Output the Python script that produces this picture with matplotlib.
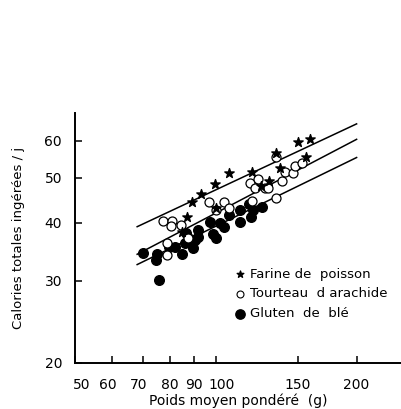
import numpy as np
import matplotlib
matplotlib.use("Agg")
import matplotlib.pyplot as plt
import matplotlib.transforms as mtransforms
from matplotlib.ticker import FixedLocator, NullLocator

# Farine de poisson (stars)
poisson_x = [89.2, 93.1, 99.7, 106.9, 119.8, 134.6, 149.7, 159.0, 155.9, 137.3,
             130.2, 125.0, 86.8, 84.6, 100.2]
poisson_y = [44.4, 46.1, 48.4, 51.2, 51.5, 56.4, 59.7, 60.4, 55.4, 52.3,
             49.2, 48.0, 41.2, 38.2, 42.9]

# Tourteau d'arachide (open circles)
arachide_x = [77.1, 80.6, 80.2, 84.4, 78.9, 78.6, 87.5, 96.9, 104.2, 106.9, 100.2,
              119.4, 118.4, 123.3, 121.4, 127.5, 129.6, 134.6, 138.4, 140.6,
              146.1, 147.7, 152.7, 134.4]
arachide_y = [40.3, 40.4, 39.3, 39.5, 36.2, 34.1, 37.0, 44.4, 44.4, 42.9, 42.6,
              44.5, 48.7, 49.6, 47.4, 47.4, 47.4, 55.4, 49.2, 51.5,
              51.2, 53.0, 53.6, 45.2]

# Gluten de ble (filled circles)
gluten_x = [70.1, 74.8, 74.5, 75.8, 79.5, 81.9, 84.6, 86.0, 89.3, 90.3, 91.8, 91.8,
            97.3, 98.9, 100.2, 102.2, 104.2, 106.9, 112.7, 112.7, 118.0, 118.8,
            120.3, 125.4, 86.5, 88.0]
gluten_y = [34.5, 34.2, 33.3, 30.1, 35.4, 35.5, 34.2, 36.1, 35.2, 36.7, 38.6, 37.3,
            40.2, 37.9, 37.0, 39.9, 39.2, 41.5, 42.6, 40.2, 43.8, 41.2,
            42.6, 43.3, 38.0, 36.8]

# fitted lines (end points)
line_x = [68, 200]
line_poisson = [39.2, 65.2]
line_arachide = [34.2, 60.4]
line_gluten = [32.5, 55.2]

x_ticks = [50, 60, 70, 80, 90, 100, 150, 200]
y_ticks = [20, 30, 40, 50, 60]

fig = plt.figure(figsize=(4.02, 4.09), dpi=100)
ax = fig.add_axes([0.1856, 0.1132, 0.8144, 0.6105])

ax.set_xscale("log")
ax.set_yscale("log")
ax.set_xlim(50, 250)
ax.set_ylim(20, 68.8)

for ly in (line_poisson, line_arachide, line_gluten):
    ax.plot(line_x, ly, color="black", lw=1.1, zorder=1)

ax.scatter(gluten_x, gluten_y, s=48, marker="o", color="black", zorder=2)
ax.scatter(arachide_x, arachide_y, s=42, marker="o", facecolor="white",
           edgecolor="black", linewidth=0.9, zorder=3)
ax.scatter(poisson_x, poisson_y, s=50, marker="*", color="black", zorder=4)

ax.xaxis.set_major_locator(FixedLocator(x_ticks))
ax.xaxis.set_minor_locator(NullLocator())
ax.set_xticklabels([str(t) for t in x_ticks])
ax.yaxis.set_major_locator(FixedLocator(y_ticks))
ax.yaxis.set_minor_locator(NullLocator())
ax.set_yticklabels([str(t) for t in y_ticks])

ax.tick_params(direction="in", length=5, width=1.1, labelsize=10, pad=11)
ax.tick_params(axis="y", pad=9)
for side in ("top", "right"):
    ax.spines[side].set_visible(False)
for side in ("left", "bottom"):
    ax.spines[side].set_linewidth(1.4)

# nudge crowded x labels as in the original
nudges = {50: 7, 60: -4, 70: -4, 100: 6}
for lab, t in zip(ax.get_xticklabels(), x_ticks):
    if t in nudges:
        off = mtransforms.ScaledTranslation(nudges[t] / 100, 0, fig.dpi_scale_trans)
        lab.set_transform(lab.get_transform() + off)

ax.set_xlabel("Poids moyen pondéré  (g)", fontsize=10, labelpad=1)
ax.set_ylabel("Calories totales ingérées / j", fontsize=9.5, labelpad=14)

h1 = ax.scatter([], [], s=25, marker="*", color="black")
h2 = ax.scatter([], [], s=25, marker="o", facecolor="white", edgecolor="black", linewidth=0.8)
h3 = ax.scatter([], [], s=45, marker="o", color="black")
ax.legend([h1, h2, h3], ["Farine de  poisson", "Tourteau  d arachide", "Gluten  de  blé"],
          loc="upper left", bbox_to_anchor=(0.48, 0.38), frameon=False,
          fontsize=9.5, handletextpad=0.2, handlelength=1.2, labelspacing=0.5,
          borderpad=0, borderaxespad=0)

fig.savefig("out.png", dpi=100)
